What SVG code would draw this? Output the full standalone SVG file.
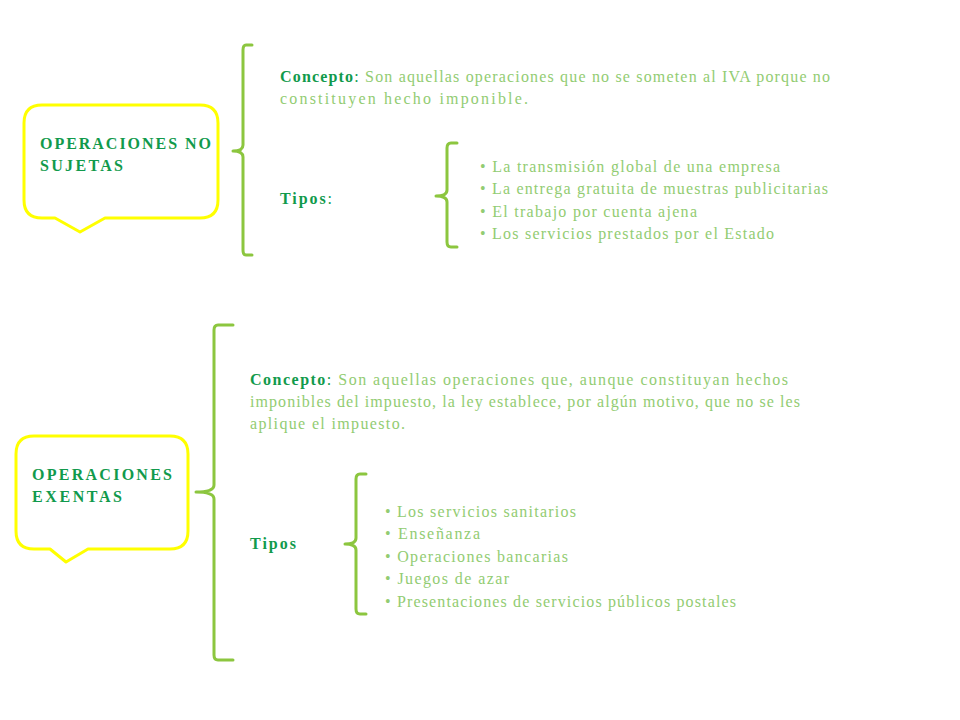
<svg xmlns="http://www.w3.org/2000/svg" width="960" height="720" viewBox="0 0 960 720">
<style>
.box{fill:#fff;stroke:#ffff00;stroke-width:3;stroke-linejoin:round}
.br{fill:none;stroke:#8cc63f;stroke-width:3;stroke-linecap:round;stroke-linejoin:round}
text{font-family:"Liberation Serif",serif;font-size:16px;fill:#92cc72}
.h{font-weight:bold;fill:#119a4c}
.k{fill:#119a4c}
</style>
<rect width="960" height="720" fill="#fff"/>
<g id="node-no-sujetas">
<path class="box" d="M42,105 H200 Q218,105 218,123 V200 Q218,218 200,218 H105 L80,232 L55,218 H42 Q24,218 24,200 V123 Q24,105 42,105 Z"/>
<text class="h" x="40" y="149" textLength="171" lengthAdjust="spacing">OPERACIONES NO</text>
<text class="h" x="40" y="171" textLength="83" lengthAdjust="spacing">SUJETAS</text>
</g>
<g id="node-exentas">
<path class="box" d="M34,436 H170 Q188,436 188,454 V531 Q188,549 170,549 H88 L66,562 L50,549 H34 Q16,549 16,531 V454 Q16,436 34,436 Z"/>
<text class="h" x="32" y="480" textLength="140" lengthAdjust="spacing">OPERACIONES</text>
<text class="h" x="32" y="502" textLength="90" lengthAdjust="spacing">EXENTAS</text>
</g>
<g id="content-no-sujetas">
<text x="280" y="82" textLength="550" lengthAdjust="spacing"><tspan class="h">Concepto</tspan><tspan class="k">:</tspan> Son aquellas operaciones que no se someten al IVA porque no</text>
<text x="280" y="104" textLength="248" lengthAdjust="spacing">constituyen hecho imponible.</text>
<text x="280" y="204" textLength="52" lengthAdjust="spacing"><tspan class="h">Tipos</tspan><tspan class="k">:</tspan></text>
<text x="480" y="172" textLength="300" lengthAdjust="spacing">• La transmisión global de una empresa</text>
<text x="480" y="194" textLength="348" lengthAdjust="spacing">• La entrega gratuita de muestras publicitarias</text>
<text x="480" y="217" textLength="217" lengthAdjust="spacing">• El trabajo por cuenta ajena</text>
<text x="480" y="239" textLength="294" lengthAdjust="spacing">• Los servicios prestados por el Estado</text>
</g>
<g id="content-exentas">
<text x="250" y="385" textLength="538" lengthAdjust="spacing"><tspan class="h">Concepto</tspan><tspan class="k">:</tspan> Son aquellas operaciones que, aunque constituyan hechos</text>
<text x="250" y="407" textLength="550" lengthAdjust="spacing">imponibles del impuesto, la ley establece, por algún motivo, que no se les</text>
<text x="250" y="429" textLength="155" lengthAdjust="spacing">aplique el impuesto.</text>
<text class="h" x="250" y="549" textLength="46" lengthAdjust="spacing">Tipos</text>
<text x="385" y="517" textLength="191" lengthAdjust="spacing">• Los servicios sanitarios</text>
<text x="385" y="539" textLength="95" lengthAdjust="spacing">• Enseñanza</text>
<text x="385" y="562" textLength="183" lengthAdjust="spacing">• Operaciones bancarias</text>
<text x="385" y="584" textLength="124" lengthAdjust="spacing">• Juegos de azar</text>
<text x="385" y="607" textLength="351" lengthAdjust="spacing">• Presentaciones de servicios públicos postales</text>
</g>
<g id="connectors">
<path class="br" d="M252,45 H246 Q243,45 243,50 V145 Q243,151 233,151 Q243,151 243,157 V250 Q243,255 246,255 H252"/>
<path class="br" d="M457,143 H451 Q447,143 447,148 V190 Q447,196 436,196 Q447,196 447,202 V242 Q447,247 451,247 H457"/>
<path class="br" d="M233,325 H218 Q214,325 214,330 V485 Q214,492 196,492 Q214,492 214,499 V655 Q214,660 218,660 H233"/>
<path class="br" d="M366,474 H360 Q356,474 356,479 V538 Q356,544 345,544 Q356,544 356,550 V609 Q356,614 360,614 H366"/>
</g>
</svg>
